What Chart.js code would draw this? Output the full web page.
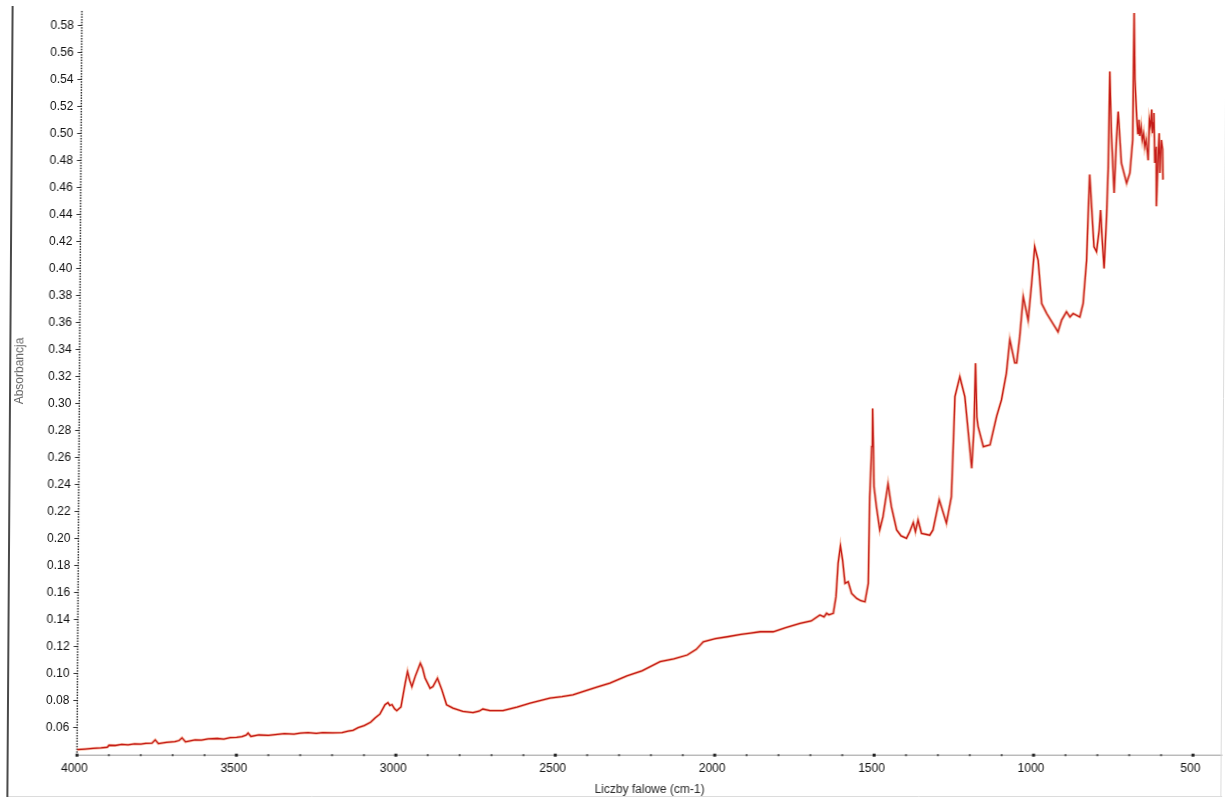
<!DOCTYPE html>
<html>
<head>
<meta charset="utf-8">
<script src="https://cdn.jsdelivr.net/npm/chart.js@4.4.1/dist/chart.umd.min.js"></script>
<style>
  html, body { margin: 0; padding: 0; background: #fff; overflow: hidden; }
  #wrap {
    position: absolute; left: 0; top: 0; width: 1225px; height: 799px;
    transform: skewX(-0.38deg); transform-origin: 612.5px 399.5px;
  }
  canvas { display: block; }
</style>
</head>
<body>
<div id="wrap"><canvas id="spectrum" width="1225" height="799"></canvas></div>
<script>
// FTIR spectrum: wavenumber (cm-1) and absorbance
const wavenumbers = [
  4000,3975,3950,3925,3905,3900,3880,3860,3840,3820,
  3800,3785,3765,3755,3745,3720,3693,3680,3671,3660,
  3630,3610,3589,3560,3540,3520,3500,3483,3470,3464,
  3455,3430,3400,3379,3350,3320,3300,3276,3250,3230,
  3200,3169,3150,3135,3119,3100,3080,3066,3051,3035,
  3026,3020,3013,3005,2998,2985,2972,2965,2958,2951,
  2941,2925,2918,2910,2894,2885,2871,2857,2842,2822,
  2791,2759,2740,2728,2706,2665,2621,2580,2518,2480,
  2446,2410,2371,2330,2277,2230,2173,2130,2088,2060,
  2038,2000,1963,1920,1890,1860,1819,1780,1735,1700,
  1673,1660,1652,1645,1631,1623,1617,1610,1603,1595,
  1585,1574,1558,1545,1532,1522,1519,1514,1512,1509,
  1506,1498,1487,1477,1462,1451,1434,1420,1403,1393,
  1382,1375,1367,1356,1330,1320,1301,1278,1263,1254,
  1239,1223,1200,1194,1190,1185,1181,1164,1143,1123,
  1108,1093,1083,1067,1061,1052,1042,1026,1016,1007,
  996,984,968,948,932,921,906,895,885,864,
  854,844,840,836,830,821,813,805,801,796,
  789,782,778,775,769,759,753,748,737,720,
  710,702,700,696,690,686,683,680,676,672,
  668,664,660,655,653,650,646,643,640,638,
  636,632,628,626,622,619,616,612,608,606
];
const absorbance = [
  0.0437,0.0442,0.0447,0.0450,0.0455,0.0470,0.0468,0.0476,0.0473,0.0480,
  0.0478,0.0484,0.0486,0.0510,0.0482,0.0492,0.0497,0.0505,0.0525,0.0495,
  0.0510,0.0508,0.0517,0.0520,0.0516,0.0526,0.0528,0.0534,0.0545,0.0560,
  0.0535,0.0546,0.0543,0.0549,0.0556,0.0553,0.0560,0.0564,0.0558,0.0564,
  0.0562,0.0564,0.0574,0.0580,0.0600,0.0615,0.0640,0.0672,0.0700,0.0770,
  0.0785,0.0765,0.0770,0.0740,0.0726,0.0753,0.0930,0.1015,0.0950,0.0904,
  0.0978,0.1077,0.1040,0.0968,0.0892,0.0904,0.0966,0.0880,0.0770,0.0745,
  0.0720,0.0712,0.0722,0.0738,0.0727,0.0727,0.0752,0.0781,0.0819,0.0830,
  0.0843,0.0870,0.0900,0.0930,0.0983,0.1020,0.1089,0.1110,0.1138,0.1180,
  0.1236,0.1260,0.1273,0.1290,0.1300,0.1310,0.1310,0.1340,0.1372,0.1390,
  0.1434,0.1420,0.1447,0.1435,0.1447,0.1570,0.1817,0.1945,0.1840,0.1668,
  0.1680,0.1594,0.1557,0.1540,0.1532,0.1668,0.2310,0.2680,0.2962,0.2700,
  0.2385,0.2237,0.2064,0.2163,0.2405,0.2237,0.2064,0.2020,0.2002,0.2051,
  0.2118,0.2051,0.2137,0.2038,0.2025,0.2064,0.2286,0.2114,0.2310,0.3050,
  0.3198,0.3050,0.2520,0.2805,0.3298,0.2900,0.2830,0.2680,0.2694,0.2904,
  0.3027,0.3225,0.3472,0.3300,0.3300,0.3494,0.3790,0.3617,0.3888,0.4160,
  0.4060,0.3740,0.3666,0.3590,0.3530,0.3617,0.3679,0.3640,0.3666,0.3640,
  0.3740,0.4060,0.4385,0.4694,0.4484,0.4160,0.4124,0.4284,0.4432,0.4235,
  0.3999,0.4385,0.4755,0.5457,0.5000,0.4558,0.4951,0.5160,0.4780,0.4630,
  0.4706,0.4951,0.5890,0.5400,0.5125,0.5000,0.5100,0.4980,0.5050,0.4950,
  0.5000,0.4900,0.4950,0.4850,0.4800,0.5100,0.5050,0.5175,0.5000,0.5077,
  0.5150,0.4780,0.4900,0.4460,0.4830,0.5000,0.4706,0.4950,0.4880,0.4657
];

// Axis ranges and labelled ticks
const xRange = [407, 4000];
const yRange = [0.04, 0.59];
const xLabelValues = [4000, 3500, 3000, 2500, 2000, 1500, 1000, 500];
const yLabelValues = [0.06,0.08,0.10,0.12,0.14,0.16,0.18,0.20,0.22,0.24,0.26,0.28,0.30,
                      0.32,0.34,0.36,0.38,0.40,0.42,0.44,0.46,0.48,0.50,0.52,0.54,0.56,0.58];
const xMinorStep = 100;
const yMinorStep = 0.002;

const xTicks = [];
for (let v = 500; v <= 4000; v += xMinorStep) xTicks.push(v);
const yTicks = [];
for (let i = 0; ; i++) {
  const v = +(0.04 + i * yMinorStep).toFixed(3);
  if (v > yRange[1] + 1e-9) break;
  yTicks.push(v);
}
const isYLabel = v => yLabelValues.some(l => Math.abs(l - v) < 1e-6);
const isXLabel = v => xLabelValues.includes(v);

const points = wavenumbers.map((w, i) => ({ x: w, y: absorbance[i] }));

const FONT = '"Liberation Sans", Arial, sans-serif';

// Axis lines, dotted y axis, frame and axis titles
const decorations = {
  id: 'decorations',
  beforeDatasetsDraw(chart) {
    const { ctx, chartArea, scales } = chart;
    const xs = scales.x, ys = scales.y;
    ctx.save();
    // x axis line with dot ticks
    ctx.strokeStyle = '#9a9a9a';
    ctx.lineWidth = 1;
    ctx.beginPath();
    ctx.moveTo(chartArea.left, chartArea.bottom + 0.5);
    ctx.lineTo(chartArea.right, chartArea.bottom + 0.5);
    ctx.stroke();
    xTicks.forEach(v => {
      const px = xs.getPixelForValue(v);
      const s = isXLabel(v) ? 3 : 2;
      ctx.fillStyle = isXLabel(v) ? '#222' : '#555';
      ctx.fillRect(px - s / 2, chartArea.bottom + 0.5 - s / 2, s, s);
    });
    // dotted y axis
    ctx.fillStyle = '#333';
    yTicks.forEach(v => {
      const py = ys.getPixelForValue(v);
      ctx.fillRect(chartArea.left - 0.75, py - 0.75, 1.5, 1.5);
    });
    ctx.restore();
  },
  afterDraw(chart) {
    const { ctx, chartArea } = chart;
    ctx.save();
    // left frame line
    ctx.strokeStyle = '#4a4a4a';
    ctx.lineWidth = 2;
    ctx.beginPath();
    ctx.moveTo(10, 6);
    ctx.lineTo(10, 797);
    ctx.stroke();
    // faint bottom and right edges
    ctx.strokeStyle = '#dcdcdc';
    ctx.lineWidth = 1;
    ctx.beginPath();
    ctx.moveTo(11, 796.5);
    ctx.lineTo(1225, 796.5);
    ctx.moveTo(1223.5, 0);
    ctx.lineTo(1223.5, 797);
    ctx.stroke();
    // axis titles
    ctx.font = '12px ' + FONT;
    ctx.fillStyle = '#2a2a2a';
    ctx.textAlign = 'center';
    ctx.textBaseline = 'middle';
    ctx.fillText('Liczby falowe (cm-1)', (chartArea.left + chartArea.right) / 2, 790);
    ctx.translate(20, 371);
    ctx.rotate(-Math.PI / 2);
    ctx.fillStyle = '#666';
    ctx.fillText('Absorbancja', 0, 0);
    ctx.restore();
  }
};

new Chart(document.getElementById('spectrum'), {
  type: 'line',
  data: {
    datasets: [
      {
        data: points,
        borderColor: '#c41a17',
        borderWidth: 1.3,
        pointRadius: 0,
        tension: 0,
        order: 0
      },
      {
        data: points,
        borderColor: 'rgba(240, 140, 100, 0.6)',
        borderWidth: 2.8,
        pointRadius: 0,
        tension: 0,
        order: 1
      }
    ]
  },
  options: {
    responsive: false,
    devicePixelRatio: 1,
    animation: false,
    layout: { padding: { top: 11.7, left: 0, right: 0, bottom: 0 } },
    plugins: { legend: { display: false }, tooltip: { enabled: false } },
    scales: {
      x: {
        type: 'linear',
        reverse: true,
        min: xRange[0],
        max: xRange[1],
        afterBuildTicks: s => { s.ticks = xTicks.map(v => ({ value: v })); },
        afterFit: s => { s.height = 44.3; },
        border: { display: false },
        grid: { display: true, drawOnChartArea: false, drawTicks: false, color: 'rgba(0,0,0,0)' },
        ticks: {
          autoSkip: false,
          maxRotation: 0,
          padding: 7,
          labelOffset: -2.5,
          color: '#111',
          font: { family: FONT, size: 12 },
          callback: v => (isXLabel(v) ? String(v) : '')
        }
      },
      y: {
        type: 'linear',
        min: yRange[0],
        max: yRange[1],
        afterBuildTicks: s => { s.ticks = yTicks.map(v => ({ value: v })); },
        afterFit: s => { s.width = 79.35; },
        border: { display: false },
        grid: {
          display: true,
          drawOnChartArea: false,
          drawTicks: true,
          tickLength: 4,
          color: 'rgba(0,0,0,0)',
          tickColor: c => (isYLabel(c.tick.value) ? '#333' : 'rgba(0,0,0,0)'),
          tickWidth: 1
        },
        ticks: {
          autoSkip: false,
          padding: 4,
          color: '#111',
          font: { family: FONT, size: 12 },
          callback: v => (isYLabel(v) ? v.toFixed(2) : '')
        }
      }
    }
  },
  plugins: [decorations]
});
</script>
</body>
</html>
